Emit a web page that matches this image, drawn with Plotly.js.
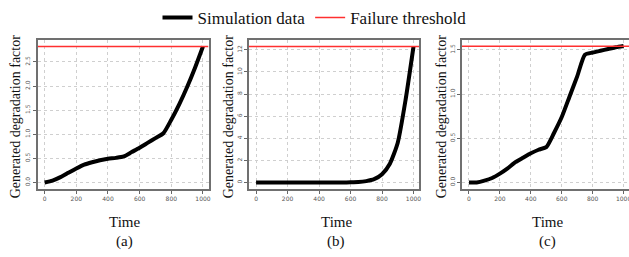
<!DOCTYPE html>
<html>
<head>
<meta charset="utf-8">
<script src="https://cdn.plot.ly/plotly-3.0.1.min.js"></script>
<style>html,body{margin:0;padding:0;background:#fff;}#chart{width:629px;height:257px;}</style>
</head>
<body>
<div id="chart"></div>
<script>
const time = [0,50,100,150,200,250,300,350,400,450,500,550,600,650,700,750,800,850,900,950,1000];
const seriesA = [0,0.04,0.11,0.2,0.29,0.37,0.42,0.46,0.49,0.51,0.54,0.63,0.72,0.82,0.92,1.02,1.30,1.62,1.98,2.38,2.82];
const seriesB = [0,0,0,0,0,0,0,0,0,0,0,0,0.01,0.03,0.12,0.3,0.75,1.7,3.6,7.5,12.3];
const seriesC = [0,0,0.02,0.05,0.1,0.16,0.23,0.28,0.33,0.37,0.40,0.56,0.74,0.97,1.2,1.445,1.47,1.49,1.51,1.53,1.545];
const thresholds = [2.82, 12.3, 1.54];
const panelLabels = ['(a)', '(b)', '(c)'];
const xTicks = [0,200,400,600,800,1000];
const yTicksA = [0,0.5,1,1.5,2,2.5];
const yTicksB = [0,2,4,6,8,10,12];
const yTicksC = [0,0.5,1,1.5];
const xRange = [-45, 1035];

const serif = 'Liberation Serif';
const series = [seriesA, seriesB, seriesC];
const yTickSets = [yTicksA, yTicksB, yTicksC];
const yTickText = [
  yTicksA.map(v => v.toFixed(1)),
  yTicksB.map(v => String(v)),
  yTicksC.map(v => v.toFixed(1))
];
const yRanges = [[-0.128, 2.95], [-0.56, 12.88], [-0.07, 1.61]];
const xDomains = [[37.5/629, 208.5/629], [249/629, 419/629], [462/629, 1]];
const yDomain = [(257-187)/257, (257-35)/257];
const xCenters = [124, 336, 547];
const yTitleX = [15, 228, 441];

const traces = [];
const layout = {
  width: 629, height: 257,
  margin: {l:0, r:0, t:0, b:0},
  paper_bgcolor: '#fff', plot_bgcolor: '#fff',
  font: {family: serif},
  showlegend: true,
  legend: {orientation: 'h', x: 0.5, xanchor: 'center', y: 1.025, yanchor: 'top',
           font: {family: serif, size: 17, color: '#111'}, itemwidth: 30, tracegroupgap: 0},
  annotations: []
};

for (let i = 0; i < 3; i++) {
  const sfx = i === 0 ? '' : String(i + 1);
  traces.push({
    x: time, y: series[i], type: 'scatter', mode: 'lines',
    name: 'Simulation data', showlegend: i === 0, legendgroup: 'sim',
    line: {color: '#000', width: 4, shape: 'spline', smoothing: 0.6},
    xaxis: 'x' + sfx, yaxis: 'y' + sfx
  });
}
for (let i = 0; i < 3; i++) {
  const sfx = i === 0 ? '' : String(i + 1);
  traces.push({
    x: xRange, y: [thresholds[i], thresholds[i]], type: 'scatter', mode: 'lines',
    name: 'Failure threshold', showlegend: i === 0, legendgroup: 'thr',
    line: {color: '#ff3030', width: 1.5},
    xaxis: 'x' + sfx, yaxis: 'y' + sfx
  });
}

for (let i = 0; i < 3; i++) {
  const sfx = i === 0 ? '' : String(i + 1);
  layout['xaxis' + sfx] = {
    domain: xDomains[i], range: xRange, anchor: 'y' + sfx,
    tickvals: xTicks, ticktext: xTicks.map(String), ticklabeloverflow: 'allow',
    ticks: 'outside', ticklen: 3, tickcolor: '#666', tickwidth: 1,
    tickfont: {family: 'DejaVu Sans', size: 6, color: '#555'},
    showgrid: true, gridcolor: '#cfcfcf', griddash: 'dot', gridwidth: 1,
    zeroline: false, showline: true, mirror: true, linecolor: '#707070', linewidth: 2
  };
  layout['yaxis' + sfx] = {
    domain: yDomain, range: yRanges[i], anchor: 'x' + sfx,
    tickvals: yTickSets[i], ticktext: yTickText[i], tickangle: -90,
    ticks: 'outside', ticklen: 3, tickcolor: '#666', tickwidth: 1,
    tickfont: {family: 'DejaVu Sans', size: 6, color: '#555'},
    showgrid: true, gridcolor: '#cfcfcf', griddash: 'dot', gridwidth: 1,
    zeroline: false, showline: true, mirror: true, linecolor: '#707070', linewidth: 2
  };
  layout.annotations.push({
    text: 'Time', xref: 'paper', yref: 'paper', x: xCenters[i] / 629, y: 1 - 221 / 257,
    xanchor: 'center', yanchor: 'middle', showarrow: false,
    font: {family: serif, size: 15, color: '#111'}
  });
  layout.annotations.push({
    text: panelLabels[i], xref: 'paper', yref: 'paper', x: xCenters[i] / 629, y: 1 - 241 / 257,
    xanchor: 'center', yanchor: 'middle', showarrow: false,
    font: {family: serif, size: 15, color: '#111'}
  });
  layout.annotations.push({
    text: 'Generated degradation factor', xref: 'paper', yref: 'paper',
    x: yTitleX[i] / 629, y: 1 - 113 / 257, textangle: -90,
    xanchor: 'center', yanchor: 'middle', showarrow: false,
    font: {family: serif, size: 14, color: '#111'}
  });
}

Plotly.newPlot('chart', traces, layout, {staticPlot: true, displayModeBar: false});
</script>
</body>
</html>
